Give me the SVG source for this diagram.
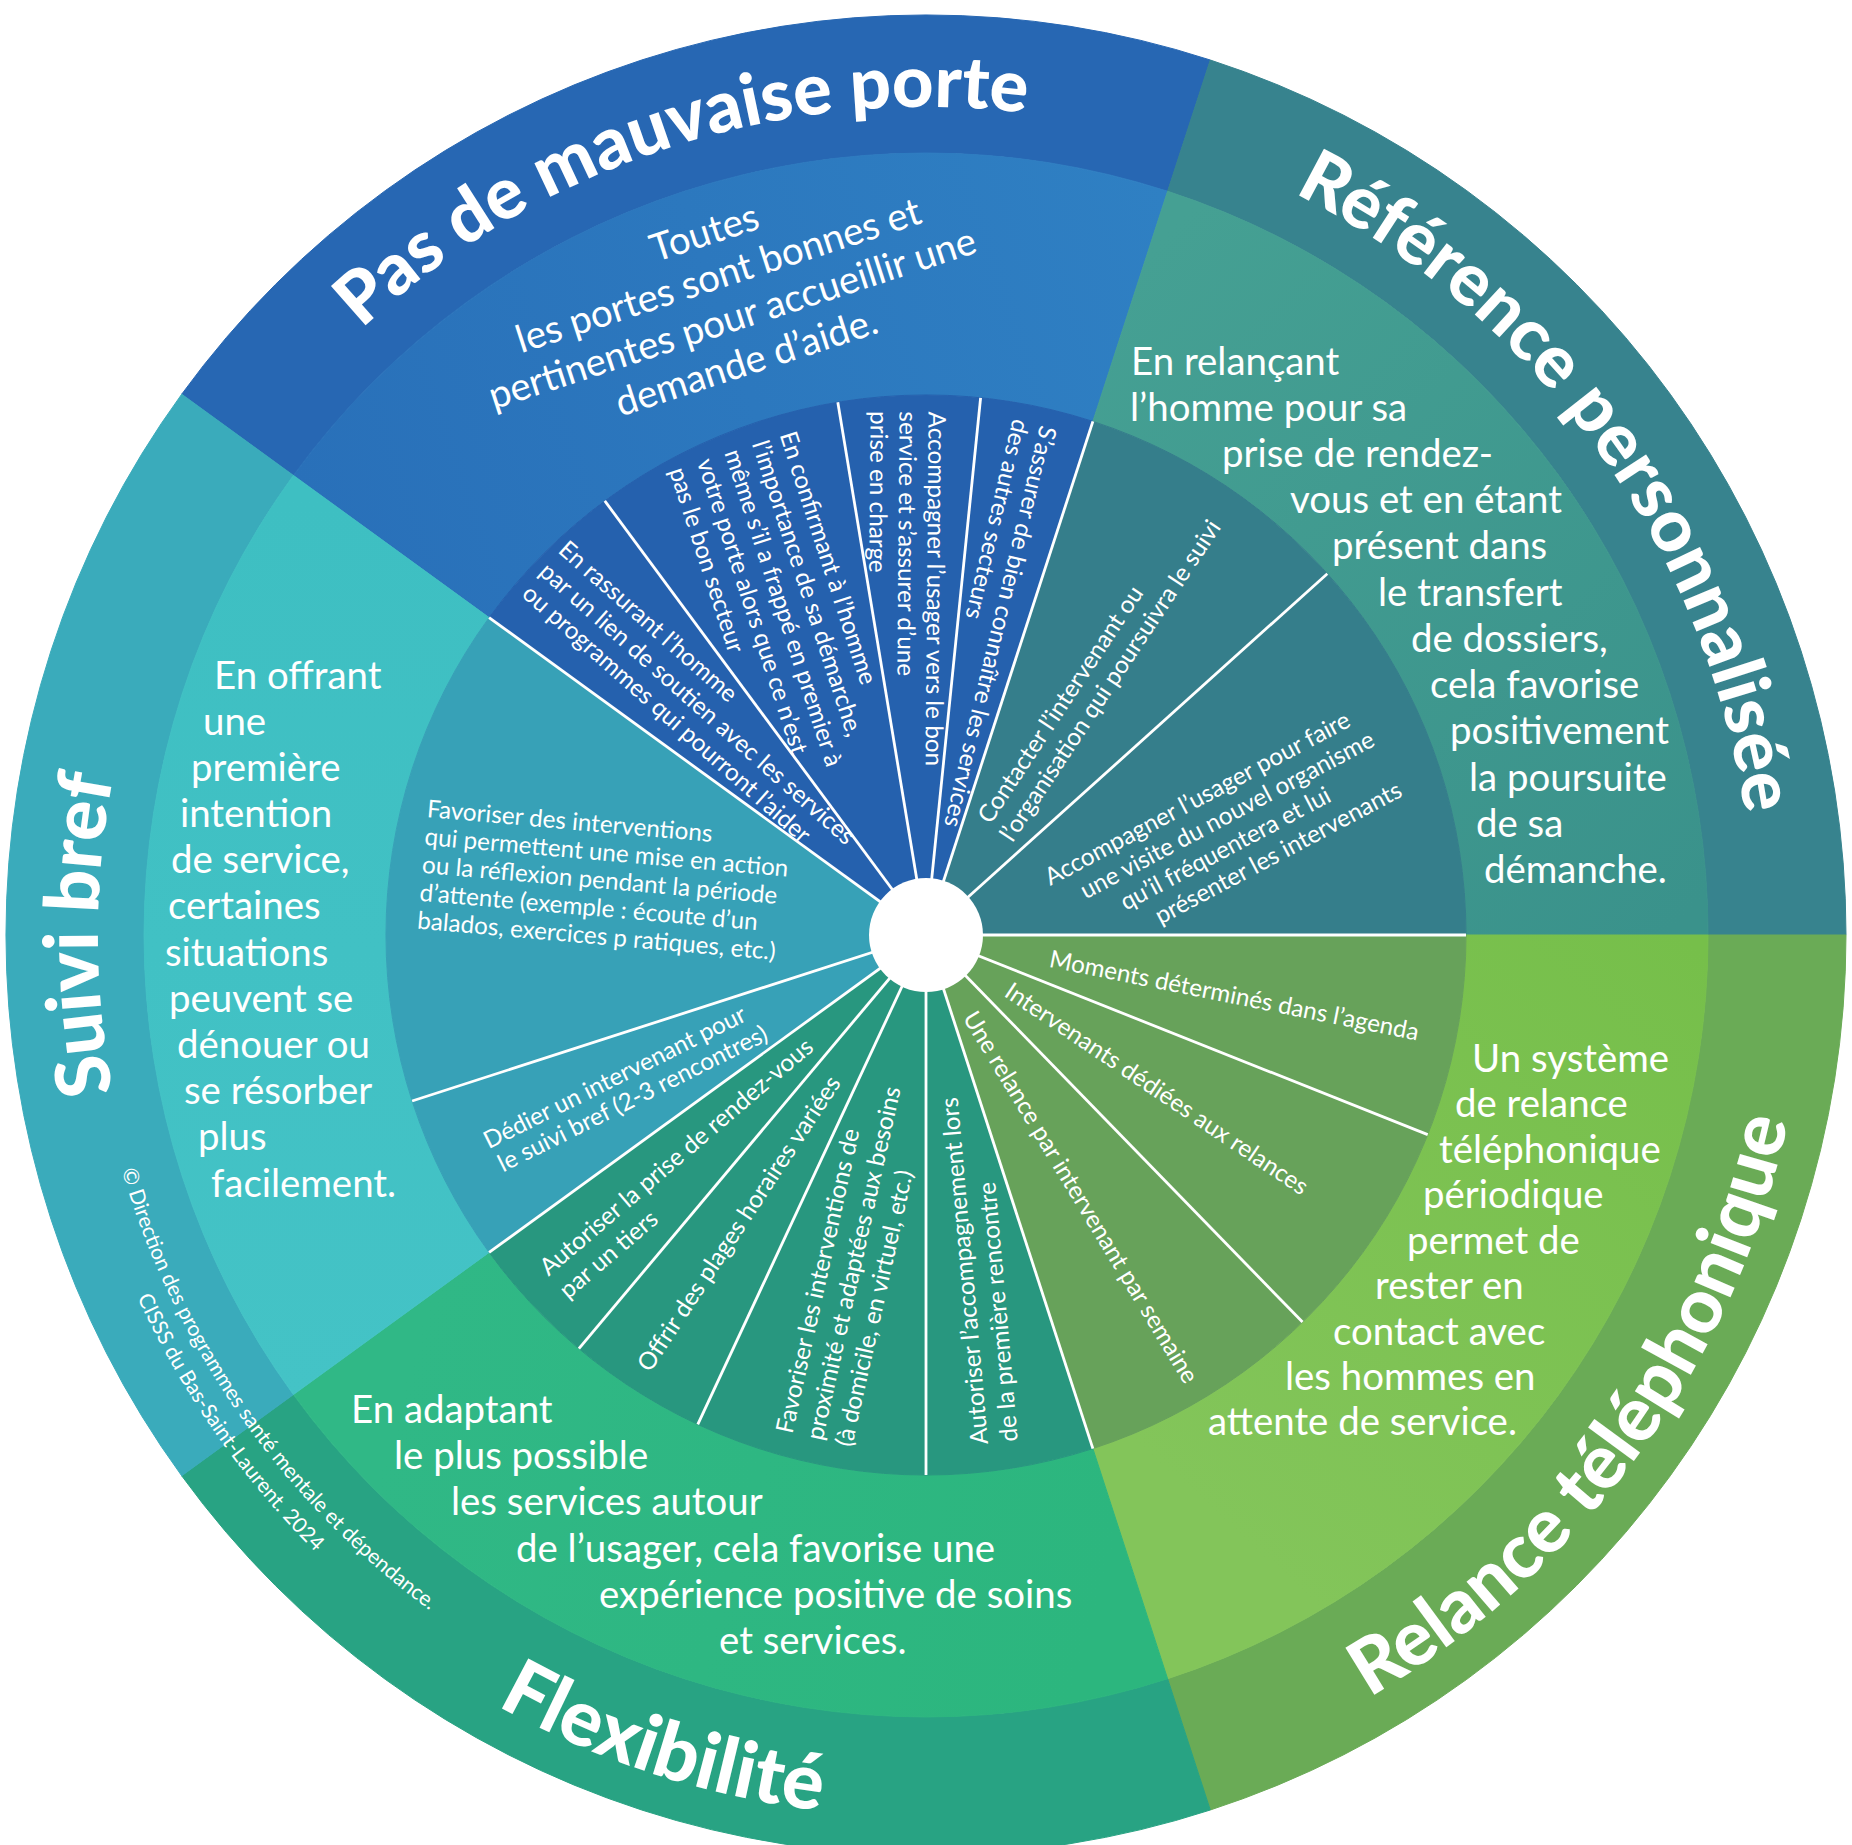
<svg xmlns="http://www.w3.org/2000/svg" width="1852" height="1845" viewBox="0 0 1852 1845">
<defs>
<style>
text{font-family:Lato,"Liberation Sans",sans-serif;fill:#fff}
.ttl{font-size:75px;font-weight:900}
.mid{font-size:38.4px}
.spk{font-size:24.3px}
.cpy{font-size:21px}
.spoke{stroke:#fff;stroke-width:2.8;fill:none}
</style>
<linearGradient id="gPas" gradientUnits="userSpaceOnUse" x1="300" y1="500" x2="1170" y2="200"><stop offset="0" stop-color="#2970b9"/><stop offset="1" stop-color="#2f80c3"/></linearGradient>
<linearGradient id="gRef" gradientUnits="userSpaceOnUse" x1="1100" y1="300" x2="1700" y2="900"><stop offset="0" stop-color="#45a093"/><stop offset="1" stop-color="#3a928b"/></linearGradient>
<linearGradient id="gRel" gradientUnits="userSpaceOnUse" x1="1200" y1="1500" x2="1700" y2="950"><stop offset="0" stop-color="#83c55a"/><stop offset="1" stop-color="#76bf4a"/></linearGradient>
<linearGradient id="gFlex" gradientUnits="userSpaceOnUse" x1="400" y1="1400" x2="1100" y2="1600"><stop offset="0" stop-color="#30b886"/><stop offset="1" stop-color="#2cb67e"/></linearGradient>
<linearGradient id="gSui" gradientUnits="userSpaceOnUse" x1="300" y1="500" x2="300" y2="1400"><stop offset="0" stop-color="#3ebfc2"/><stop offset="1" stop-color="#44c3c6"/></linearGradient>
<path id="tp-pas" d="M256.1,448.3 A828,828 0 0 1 1181.9,147.5"/>
<path id="tp-ref" d="M1181.9,147.5 A828,828 0 0 1 1754,935"/>
<path id="tp-sui" d="M256.1,1421.7 A828,828 0 0 1 256.1,448.3"/>
<path id="tp-rel" d="M1198.5,1773.8 A882,882 0 0 0 1808,935"/>
<path id="tp-flex" d="M212.5,1453.6 A882,882 0 0 0 1198.5,1773.8"/>
<path id="tp-c1" d="M88,935 A838,838 0 0 0 639.4,1722.5"/>
<path id="tp-c2" d="M58,935 A868,868 0 0 0 629.1,1750.6"/>
</defs>

<g id="pas-de-mauvaise-porte">
<path d="M181.7,394.2 A920,920 0 0 1 1210.3,60 L1167.6,191.3 A782,782 0 0 0 293.4,475.4Z" fill="#2767b3" stroke="#2767b3"/>
<path d="M293.4,475.4 A782,782 0 0 1 1167.6,191.3 L1092.9,421.4 A540,540 0 0 0 489.1,617.6Z" fill="url(#gPas)" stroke="url(#gPas)"/>
<path d="M489.1,617.6 A540,540 0 0 1 1092.9,421.4 L926,935Z" fill="#2561ae" stroke="#2561ae"/>
<text class="ttl" style="font-size:72px"><textPath href="#tp-pas" startOffset="50%" text-anchor="middle">Pas de mauvaise porte</textPath></text>
<text class="mid" transform="rotate(-18)" text-anchor="middle"><tspan x="598" y="452">Toutes</tspan><tspan x="598" y="497">les portes sont bonnes et</tspan><tspan x="598" y="542">pertinentes pour accueillir une</tspan><tspan x="598" y="588">demande d’aide.</tspan></text>
<g transform="translate(563,545) rotate(41.5)"><text class="spk"><tspan x="0" y="9">En rassurant l’homme</tspan><tspan x="0" y="38">par un lien de soutien avec les services</tspan><tspan x="2" y="66">ou programmes qui pourront l’aider</tspan></text></g>
<g transform="translate(788,432) rotate(72)"><text class="spk"><tspan x="0" y="9">En confirmant à l’homme</tspan><tspan x="0" y="38">l’importance de sa démarche,</tspan><tspan x="0" y="67">même s’il a frappé en premier à</tspan><tspan x="0" y="96">votre porte alors que ce n’est</tspan><tspan x="0" y="125">pas le bon secteur</tspan></text></g>
<g transform="translate(937.6,411.7) rotate(90.5)"><text class="spk"><tspan x="0" y="9">Accompagner l’usager vers le bon</tspan><tspan x="0" y="38">service et s’assurer d’une</tspan><tspan x="0" y="67">prise en charge</tspan></text></g>
<g transform="translate(1049,426.7) rotate(103.5)"><text class="spk"><tspan x="0" y="9">S’assurer de bien connaître les services</tspan><tspan x="0" y="37">des autres secteurs</tspan></text></g>
</g>

<g id="reference-personnalisee">
<path d="M1210.3,60 A920,920 0 0 1 1846,935 L1708,935 A782,782 0 0 0 1167.6,191.3Z" fill="#37838e" stroke="#37838e"/>
<path d="M1167.6,191.3 A782,782 0 0 1 1708,935 L1466,935 A540,540 0 0 0 1092.9,421.4Z" fill="url(#gRef)" stroke="url(#gRef)"/>
<path d="M1092.9,421.4 A540,540 0 0 1 1466,935 L926,935Z" fill="#357e8b" stroke="#357e8b"/>
<text class="ttl" style="font-size:73px"><textPath href="#tp-ref" startOffset="50%" text-anchor="middle">Référence personnalisée</textPath></text>
<text class="mid"><tspan x="1131" y="375">En relançant</tspan><tspan x="1130" y="421">l’homme pour sa</tspan><tspan x="1222" y="467">prise de rendez-</tspan><tspan x="1290" y="513">vous et en étant</tspan><tspan x="1332" y="559">présent dans</tspan><tspan x="1378" y="606">le transfert</tspan><tspan x="1411" y="652">de dossiers,</tspan><tspan x="1430" y="698">cela favorise</tspan><tspan x="1450" y="744">positivement</tspan><tspan x="1469" y="791">la poursuite</tspan><tspan x="1476" y="837">de sa</tspan><tspan x="1484" y="883">démanche.</tspan></text>
<g transform="translate(983,820) rotate(-56.5)"><text class="spk"><tspan x="0" y="9">Contacter l’intervenant ou</tspan><tspan x="-3" y="37.5">l’organisation qui poursuivra le suivi</tspan></text></g>
<g transform="translate(1046,878) rotate(-28)"><text class="spk"><tspan x="0" y="9">Accompagner l’usager pour faire</tspan><tspan x="25" y="37.7">une visite du nouvel organisme</tspan><tspan x="55" y="66.4">qu’il fréquentera et lui</tspan><tspan x="79" y="95.1">présenter les intervenants</tspan></text></g>
</g>

<g id="relance-telephonique">
<path d="M1846,935 A920,920 0 0 1 1210.3,1810 L1167.6,1678.7 A782,782 0 0 0 1708,935Z" fill="#6aab56" stroke="#6aab56"/>
<path d="M1708,935 A782,782 0 0 1 1167.6,1678.7 L1092.9,1448.6 A540,540 0 0 0 1466,935Z" fill="url(#gRel)" stroke="url(#gRel)"/>
<path d="M1466,935 A540,540 0 0 1 1092.9,1448.6 L926,935Z" fill="#67a25a" stroke="#67a25a"/>
<text class="ttl" style="font-size:76px"><textPath href="#tp-rel" startOffset="50%" text-anchor="middle">Relance téléphonique</textPath></text>
<text class="mid"><tspan x="1472" y="1072">Un système</tspan><tspan x="1455" y="1117">de relance</tspan><tspan x="1439" y="1163">téléphonique</tspan><tspan x="1423" y="1208">périodique</tspan><tspan x="1407" y="1254">permet de</tspan><tspan x="1375" y="1299">rester en</tspan><tspan x="1333" y="1345">contact avec</tspan><tspan x="1285" y="1390">les hommes en</tspan><tspan x="1208" y="1435">attente de service.</tspan></text>
<g transform="translate(1050,958) rotate(11.3)"><text class="spk" x="0" y="9">Moments déterminés dans l’agenda</text></g>
<g transform="translate(1008,988) rotate(33.9)"><text class="spk" x="0" y="9">Intervenants dédiées aux relances</text></g>
<g transform="translate(970,1013) rotate(58.8)"><text class="spk" x="0" y="9">Une relance par intervenant par semaine</text></g>
</g>

<g id="flexibilite">
<path d="M1210.3,1810 A920,920 0 0 1 181.7,1475.8 L293.4,1394.6 A782,782 0 0 0 1167.6,1678.7Z" fill="#28a383" stroke="#28a383"/>
<path d="M1167.6,1678.7 A782,782 0 0 1 293.4,1394.6 L489.1,1252.4 A540,540 0 0 0 1092.9,1448.6Z" fill="url(#gFlex)" stroke="url(#gFlex)"/>
<path d="M1092.9,1448.6 A540,540 0 0 1 489.1,1252.4 L926,935Z" fill="#28977f" stroke="#28977f"/>
<text class="ttl" style="font-size:78px"><textPath href="#tp-flex" startOffset="50%" text-anchor="middle">Flexibilité</textPath></text>
<text class="mid"><tspan x="351" y="1423">En adaptant</tspan><tspan x="394" y="1469">le plus possible</tspan><tspan x="451" y="1515">les services autour</tspan><tspan x="516" y="1562">de l’usager, cela favorise une</tspan><tspan x="599" y="1608">expérience positive de soins</tspan><tspan x="719" y="1654">et services.</tspan></text>
<g transform="translate(979,1444.5) rotate(-95)"><text class="spk"><tspan x="0" y="9">Autoriser l’accompagnement lors</tspan><tspan x="0" y="39">de la première rencontre</tspan></text></g>
<g transform="translate(783.5,1432.6) rotate(-77.5)"><text class="spk"><tspan x="0" y="9">Favoriser les interventions de</tspan><tspan x="0" y="40">proximité et adaptées aux besoins</tspan><tspan x="0" y="70">(à domicile, en virtuel, etc.)</tspan></text></g>
<g transform="translate(642.6,1368.3) rotate(-56.6)"><text class="spk" x="0" y="9">Offrir des plages horaires variées</text></g>
<g transform="translate(542.7,1270) rotate(-40.5)"><text class="spk"><tspan x="0" y="9">Autoriser la prise de rendez-vous</tspan><tspan x="0" y="39">par un tiers</tspan></text></g>
</g>

<g id="suivi-bref">
<path d="M181.7,1475.8 A920,920 0 0 1 181.7,394.2 L293.4,475.4 A782,782 0 0 0 293.4,1394.6Z" fill="#3aabbb" stroke="#3aabbb"/>
<path d="M293.4,1394.6 A782,782 0 0 1 293.4,475.4 L489.1,617.6 A540,540 0 0 0 489.1,1252.4Z" fill="url(#gSui)" stroke="url(#gSui)"/>
<path d="M489.1,1252.4 A540,540 0 0 1 489.1,617.6 L926,935Z" fill="#37a1b7" stroke="#37a1b7"/>
<text class="ttl"><textPath href="#tp-sui" startOffset="50%" text-anchor="middle">Suivi bref</textPath></text>
<text class="mid"><tspan x="214" y="689">En offrant</tspan><tspan x="203" y="735">une</tspan><tspan x="191" y="781">première</tspan><tspan x="180" y="827">intention</tspan><tspan x="171" y="873">de service,</tspan><tspan x="168" y="919">certaines</tspan><tspan x="165" y="966">situations</tspan><tspan x="169" y="1012">peuvent se</tspan><tspan x="177" y="1058">dénouer ou</tspan><tspan x="184" y="1104">se résorber</tspan><tspan x="198" y="1150">plus</tspan><tspan x="211" y="1197">facilement.</tspan></text>
<g transform="translate(427.2,808) rotate(5)"><text class="spk"><tspan x="0" y="9">Favoriser des interventions</tspan><tspan x="0" y="37">qui permettent une mise en action</tspan><tspan x="0" y="65">ou la réflexion pendant la période</tspan><tspan x="0" y="93">d’attente (exemple : écoute d’un</tspan><tspan x="0" y="121">balados, exercices p ratiques, etc.)</tspan></text></g>
<g transform="translate(484.8,1141.3) rotate(-26.5)"><text class="spk"><tspan x="0" y="9">Dédier un intervenant pour</tspan><tspan x="2.5" y="36">le suivi bref (2-3 rencontres)</tspan></text></g>
</g>

<text class="cpy"><textPath href="#tp-c1" startOffset="50%" text-anchor="middle">© Direction des programmes santé mentale et dépendance.</textPath></text>
<text class="cpy"><textPath href="#tp-c2" startOffset="50%" text-anchor="middle">CISSS du Bas-Saint-Laurent. 2024</textPath></text>

<g id="connectors">
<line class="spoke" x1="926" y1="935" x2="489.1" y2="617.6"/>
<line class="spoke" x1="926" y1="935" x2="604.8" y2="500.9"/>
<line class="spoke" x1="926" y1="935" x2="837.8" y2="402.2"/>
<line class="spoke" x1="926" y1="935" x2="980.6" y2="397.8"/>
<line class="spoke" x1="926" y1="935" x2="1092.9" y2="421.4"/>
<line class="spoke" x1="926" y1="935" x2="1327.3" y2="573.7"/>
<line class="spoke" x1="926" y1="935" x2="1466" y2="935"/>
<line class="spoke" x1="926" y1="935" x2="1427.7" y2="1134.6"/>
<line class="spoke" x1="926" y1="935" x2="1302.5" y2="1322.1"/>
<line class="spoke" x1="926" y1="935" x2="1092.9" y2="1448.6"/>
<line class="spoke" x1="926" y1="935" x2="926" y2="1475"/>
<line class="spoke" x1="926" y1="935" x2="697.8" y2="1424.4"/>
<line class="spoke" x1="926" y1="935" x2="578.9" y2="1348.6"/>
<line class="spoke" x1="926" y1="935" x2="489.1" y2="1252.4"/>
<line class="spoke" x1="926" y1="935" x2="412.1" y2="1101"/>
<circle cx="926" cy="935" r="57" fill="#fff"/>
</g>
</svg>
